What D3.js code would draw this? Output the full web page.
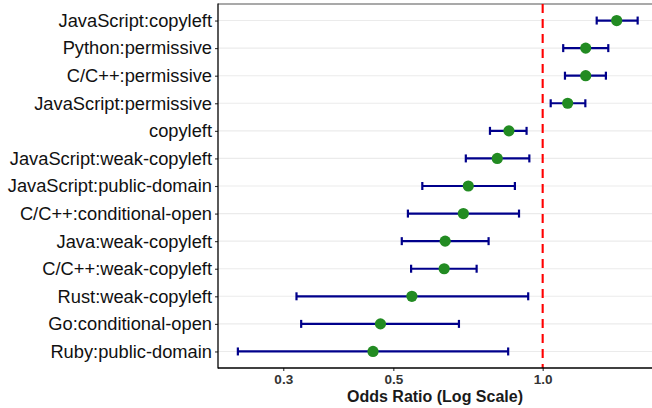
<!doctype html>
<html>
<head>
<meta charset="utf-8">
<script src="https://d3js.org/d3.v7.min.js"></script>
<style>
  body { margin: 0; background: #fff; }
  text { font-family: "Liberation Sans", Arial, sans-serif; }
</style>
</head>
<body>
<svg width="652" height="408"></svg>
<script>
// terms, top to bottom
var terms = ["JavaScript:copyleft", "Python:permissive", "C/C++:permissive", "JavaScript:permissive",
    "copyleft", "JavaScript:weak-copyleft", "JavaScript:public-domain", "C/C++:conditional-open",
    "Java:weak-copyleft", "C/C++:weak-copyleft", "Rust:weak-copyleft", "Go:conditional-open",
    "Ruby:public-domain"]
var odds  = [1.410, 1.221, 1.221, 1.123, 0.855, 0.810, 0.708, 0.692, 0.636, 0.633, 0.545, 0.471, 0.455]
var lower = [1.285, 1.100, 1.109, 1.038, 0.783, 0.700, 0.572, 0.535, 0.520, 0.543, 0.319, 0.326, 0.243]
var upper = [1.554, 1.356, 1.341, 1.219, 0.928, 0.940, 0.879, 0.896, 0.778, 0.736, 0.935, 0.678, 0.852]
var x_ticks = [0.3, 0.5, 1.0]
var x_domain = [0.2216, 1.661]

var svg = d3.select("svg")
var left = 218, right = 652, top_ = 4, bottom = 368

var x = d3.scaleLog().domain(x_domain).range([left, right])
var y = d3.scalePoint().domain(terms).range([top_, bottom]).padding(0.6)

var rows = terms.map(function (t, i) { return {term: t, or: odds[i], lo: lower[i], hi: upper[i]} })

// grid lines
svg.append("g").selectAll("line")
    .data(terms).enter().append("line")
    .attr("x1", left).attr("x2", right)
    .attr("y1", function (d) { return y(d) }).attr("y2", function (d) { return y(d) })
    .attr("stroke", "#ebebeb").attr("stroke-width", 1.1)

// panel top edge
svg.append("line")
    .attr("x1", left).attr("x2", right).attr("y1", top_).attr("y2", top_)
    .attr("stroke", "#555").attr("stroke-width", 1.2)

// reference line at 1
svg.append("line")
    .attr("x1", x(1)).attr("x2", x(1)).attr("y1", top_).attr("y2", bottom)
    .attr("stroke", "#ff0000").attr("stroke-width", 2.1)
    .attr("stroke-dasharray", "9,6")

// error bars
var eb = svg.append("g").selectAll("g").data(rows).enter().append("g")
    .attr("stroke", "#00008b").attr("stroke-width", 2.2)
eb.append("line")
    .attr("x1", function (d) { return x(d.lo) }).attr("x2", function (d) { return x(d.hi) })
    .attr("y1", function (d) { return y(d.term) }).attr("y2", function (d) { return y(d.term) })
eb.append("line")
    .attr("x1", function (d) { return x(d.lo) }).attr("x2", function (d) { return x(d.lo) })
    .attr("y1", function (d) { return y(d.term) - 4 }).attr("y2", function (d) { return y(d.term) + 4 })
eb.append("line")
    .attr("x1", function (d) { return x(d.hi) }).attr("x2", function (d) { return x(d.hi) })
    .attr("y1", function (d) { return y(d.term) - 4 }).attr("y2", function (d) { return y(d.term) + 4 })

// points
svg.append("g").selectAll("circle").data(rows).enter().append("circle")
    .attr("cx", function (d) { return x(d.or) }).attr("cy", function (d) { return y(d.term) })
    .attr("r", 5.6).attr("fill", "#228b22")

// y axis
var yAxis = svg.append("g")
    .attr("transform", "translate(" + left + ",0)")
    .call(d3.axisLeft(y).tickSize(3).tickPadding(3))
yAxis.select(".domain").remove()
yAxis.selectAll(".tick line").attr("stroke", "#333").attr("stroke-width", 1.1)
yAxis.selectAll("text").attr("font-size", "18.3px").attr("fill", "#111")
    .attr("font-family", "Liberation Sans, Arial, sans-serif")
svg.append("line")
    .attr("x1", left).attr("x2", left).attr("y1", top_ - 0.5).attr("y2", bottom + 0.5)
    .attr("stroke", "#000").attr("stroke-width", 1.3)

// x axis
var xAxis = svg.append("g")
    .attr("transform", "translate(0," + bottom + ")")
    .call(d3.axisBottom(x).tickValues(x_ticks).tickFormat(d3.format(".1f")).tickSize(3).tickPadding(3))
xAxis.select(".domain").remove()
xAxis.selectAll(".tick line").attr("stroke", "#333").attr("stroke-width", 1.1)
xAxis.selectAll("text").attr("font-size", "13.5px").attr("font-weight", "bold").attr("fill", "#333")
    .attr("font-family", "Liberation Sans, Arial, sans-serif")
svg.append("line")
    .attr("x1", left).attr("x2", right).attr("y1", bottom).attr("y2", bottom)
    .attr("stroke", "#000").attr("stroke-width", 1.3)

svg.append("text")
    .attr("x", (left + right) / 2).attr("y", 401.5)
    .attr("text-anchor", "middle").attr("font-size", "16px").attr("font-weight", "bold")
    .attr("fill", "#1a1a1a")
    .text("Odds Ratio (Log Scale)")
</script>
</body>
</html>
